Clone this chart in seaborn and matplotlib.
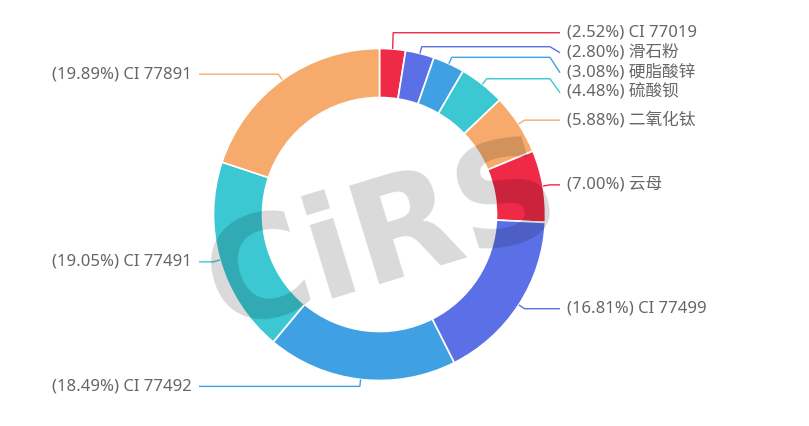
# -*- coding: utf-8 -*-
"""
Donut chart: share of each ingredient (%), with leader-line labels and a CiRS watermark.
"""

import numpy as np
import matplotlib
matplotlib.use("Agg")
import matplotlib.pyplot as plt
import seaborn as sns

# =============================================================================
# DATA (clockwise from 12 o'clock)
# =============================================================================

NAMES = ["CI 77019", "滑石粉", "硬脂酸锌", "硫酸钡", "二氧化钛",
         "云母", "CI 77499", "CI 77492", "CI 77491", "CI 77891"]
SHARES = [2.52, 2.80, 3.08, 4.48, 5.88, 7.00, 16.81, 18.49, 19.05, 19.89]

# colour cycle used by the slices
PALETTE = ["#ee2a47", "#5b70e6", "#3fa0e3", "#3bc8d2", "#f6ab6c"]

# =============================================================================
# LAYOUT (pixel units, y grows downward)
# =============================================================================

W, H = 809, 426
CX, CY = 379.5, 214.5
R_OUT, R_IN = 166, 117
R_ELBOW = 173            # end of first leader segment
LABEL_GAP = 20           # min vertical spacing between labels
RIGHT_LINE_END, RIGHT_TEXT_X = 560, 567
LEFT_LINE_END, LEFT_TEXT_X = 199, 192
TEXT_COLOR = "#666666"


def polar(r, phi):
    """screen point at radius r and clockwise angle phi (deg) from top."""
    a = np.deg2rad(phi)
    return CX + r * np.sin(a), CY - r * np.cos(a)


def spread_labels(natural):
    """push overlapping labels apart, then pull them back toward their natural y."""
    order = np.argsort(natural)
    nat = np.array(natural, dtype=float)[order]
    y = nat.copy()
    for i in range(1, len(y)):
        y[i] = max(y[i], y[i - 1] + LABEL_GAP)
    y -= (y - nat).sum() / len(y)
    for _ in range(50):
        for i in range(len(y)):
            lo = y[i - 1] + LABEL_GAP if i > 0 else -np.inf
            hi = y[i + 1] - LABEL_GAP if i < len(y) - 1 else np.inf
            y[i] = min(max(nat[i], lo), hi)
    out = np.empty_like(y)
    out[order] = y
    return out


sns.set_theme(style="white")
plt.rcParams["font.family"] = ["Noto Sans", "Noto Sans CJK SC", "DejaVu Sans"]

colors = [PALETTE[i % len(PALETTE)] for i in range(len(SHARES))]
sns.set_palette(colors)

fig = plt.figure(figsize=(W / 100, H / 100), dpi=100)
ax = fig.add_axes([0, 0, 1, 1])

# y axis inverted -> counterclock in data == clockwise on screen
ax.pie(SHARES, colors=colors, center=(CX, CY), radius=R_OUT,
       startangle=-90, counterclock=True,
       wedgeprops=dict(width=R_OUT - R_IN, edgecolor="white", linewidth=1.2))

ax.set_xlim(0, W)
ax.set_ylim(H, 0)
ax.set_aspect("equal")
ax.axis("off")

# ─── labels + leader lines ──────────────────────────────────────────
cum = np.cumsum(SHARES)
mids = (cum - np.array(SHARES) / 2) / cum[-1] * 360.0

for side in ("right", "left"):
    idx = [i for i, m in enumerate(mids) if (m < 180) == (side == "right")]
    natural = [polar(R_ELBOW, mids[i])[1] for i in idx]
    ys = spread_labels(natural)
    for i, ly in zip(idx, ys):
        x1, y1 = polar(R_OUT, mids[i])
        x2, y2 = polar(R_ELBOW, mids[i])
        if side == "right":
            end_x, text_x, sgn, ha = RIGHT_LINE_END, RIGHT_TEXT_X, 1, "left"
        else:
            end_x, text_x, sgn, ha = LEFT_LINE_END, LEFT_TEXT_X, -1, "right"
        if abs(ly - CY) >= abs(y2 - CY):
            xs = [x1, x2, end_x]
            yv = [y1, ly, ly]
        else:
            xs = [x1, x2, end_x - sgn * 10, end_x]
            yv = [y1, y2, y2, ly]
        ax.plot(xs, yv, color=colors[i], lw=1, solid_capstyle="butt", zorder=3)
        ax.text(text_x, ly, f"({SHARES[i]:.2f}%) {NAMES[i]}", ha=ha, va="center",
                fontsize=12, color=TEXT_COLOR, zorder=4)

# ─── watermark ─────────────────────────────────────────────────────
ax.text(395, 277, "CiRS", fontsize=101, fontweight="bold", family="DejaVu Sans",
        color="black", alpha=0.15, rotation=17, rotation_mode="anchor",
        ha="center", va="baseline", zorder=6)

fig.savefig("out.png", dpi=100)
plt.close(fig)
